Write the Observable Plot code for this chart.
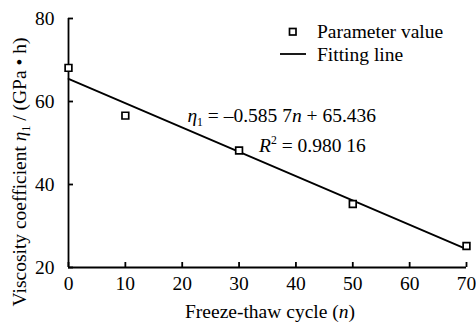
<!DOCTYPE html>
<html>
<head>
<meta charset="utf-8">
<script src="https://cdn.jsdelivr.net/npm/d3@7"></script>
<script src="https://cdn.jsdelivr.net/npm/@observablehq/plot@0.6"></script>
<style>
  html, body { margin: 0; padding: 0; background: #fff; }
  #chart { width: 476px; height: 324px; }
  #chart svg, #chart svg text, #chart svg tspan { font-family: "Liberation Serif", "Times New Roman", serif !important; }
</style>
</head>
<body>
<div id="chart"></div>
<script>
// Data
const cycles = [0, 10, 30, 50, 70];
const viscosity = [68.1, 56.6, 48.2, 35.3, 25.2];
const xTicks = [0, 10, 20, 30, 40, 50, 60, 70];
const yTicks = [20, 40, 60, 80];
const fitSlope = -0.5857;
const fitIntercept = 65.436;
const fitRange = [0, 70];
const legendLabels = ["Parameter value", "Fitting line"];

const points = cycles.map((n, i) => ({n, v: viscosity[i]}));
const fit = fitRange.map(n => ({n, v: fitSlope * n + fitIntercept}));

const fontSize = 19.5;
const ff = "Liberation Serif";
const plot = Plot.plot({
  width: 476,
  height: 324,
  marginLeft: 68,
  marginRight: 10,
  marginTop: 18,
  marginBottom: 57,
  style: {fontFamily: ff, fontSize: fontSize + "px", color: "#000", background: "#fff", overflow: "visible"},
  x: {domain: [0, 70]},
  y: {domain: [20, 80]},
  marks: [
    Plot.axisX({ticks: xTicks, tickSize: -5, tickPadding: 14, strokeWidth: 1.8, label: null, fontFamily: ff}),
    Plot.axisY({ticks: yTicks, tickSize: -5, tickPadding: 19, strokeWidth: 1.8, label: null, fontFamily: ff}),
    Plot.ruleX([0], {strokeWidth: 1.8}),
    Plot.ruleY([20], {strokeWidth: 1.8}),
    Plot.line(fit, {x: "n", y: "v", stroke: "#000", strokeWidth: 1.8}),
    Plot.dot(points, {x: "n", y: "v", symbol: "square", r: 3.8, stroke: "#000", strokeWidth: 1.7, fill: "#fff"})
  ]
});
document.getElementById("chart").append(plot);

const svg = d3.select(plot);
const xs = plot.scale("x"), ys = plot.scale("y");

function addText(x, y, anchor) {
  return svg.append("text").attr("x", x).attr("y", y).attr("text-anchor", anchor)
    .attr("font-family", ff).attr("font-size", fontSize).attr("fill", "#000");
}

// x-axis label
const xl = addText(270, 318, "middle");
xl.append("tspan").text("Freeze-thaw cycle (");
xl.append("tspan").attr("font-style", "italic").text("n");
xl.append("tspan").text(")");

// y-axis label
const yl = svg.append("text").attr("transform", "translate(26,172) rotate(-90)").attr("text-anchor", "middle")
  .attr("font-family", ff).attr("font-size", fontSize).attr("fill", "#000");
yl.append("tspan").text("Viscosity coefficient ");
yl.append("tspan").attr("font-style", "italic").text("η");
yl.append("tspan").attr("font-size", fontSize * 0.6).attr("dy", 4).text("1");
yl.append("tspan").attr("dy", -4).text(" / (GPa • h)");

// Equation
const eq = addText(xs.apply(21), ys.apply(56.6) + 7, "start");
eq.append("tspan").attr("font-style", "italic").text("η");
eq.append("tspan").attr("font-size", fontSize * 0.6).attr("dy", 4).text("1");
eq.append("tspan").attr("dy", -4).text(" = –0.585 7");
eq.append("tspan").attr("font-style", "italic").text("n");
eq.append("tspan").text(" + 65.436");

const r2 = addText(xs.apply(33.6), ys.apply(49.4) + 7, "start");
r2.append("tspan").attr("font-style", "italic").text("R");
r2.append("tspan").attr("font-size", fontSize * 0.6).attr("dy", -8).text("2");
r2.append("tspan").attr("dy", 8).text(" = 0.980 16");

// Legend
const lg = svg.append("g");
lg.append("rect").attr("x", 289.5).attr("y", 28.5).attr("width", 6.5).attr("height", 6.5)
  .attr("fill", "#fff").attr("stroke", "#000").attr("stroke-width", 1.7);
addText(317, 38, "start").text(legendLabels[0]);
lg.append("line").attr("x1", 280).attr("x2", 306).attr("y1", 54).attr("y2", 54).attr("stroke", "#000").attr("stroke-width", 1.8);
addText(317, 61, "start").text(legendLabels[1]);
</script>
</body>
</html>
